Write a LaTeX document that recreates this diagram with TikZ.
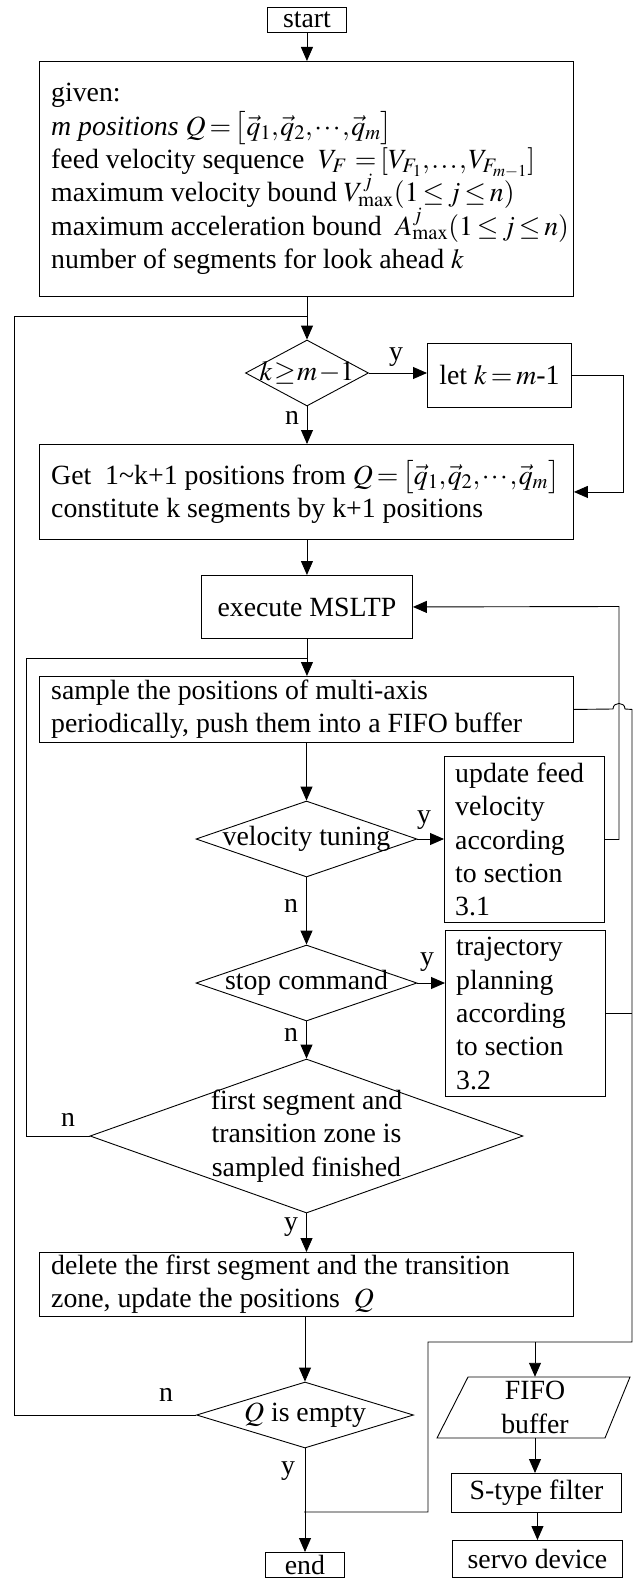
\documentclass[tikz,border=0pt]{standalone}
\usepackage{mathptmx}
\usepackage[no-math]{fontspec}
\setmainfont{Liberation Serif}
\usetikzlibrary{arrows.meta,shapes.geometric}
\lineskiplimit=-50pt\relax
\lineskip=0pt\relax
% tight equation-editor style spacing
\thinmuskip=1mu\relax
\medmuskip=1.5mu\relax
\thickmuskip=2.5mu\relax

\begin{document}
\begin{tikzpicture}[x=1pt,y=-1pt,
  every node/.style={font=\fontsize{27.8}{33.4}\selectfont},
  ln/.style={line width=0.9pt},
  arr/.style={ln,-{Triangle[length=14pt,width=12pt]}},
  box/.style={draw,line width=0.9pt,inner sep=0pt,anchor=north west},
  txt/.style={inner sep=0pt,anchor=west,align=left},
  dia/.style={draw,diamond,line width=0.9pt,inner sep=0pt},
  lbl/.style={inner sep=0pt}
]
\useasboundingbox (0,0) rectangle (635,1578);
\clip (0,0) rectangle (635,1578);

% ---------- main column ----------
\node[box,minimum width=79pt,minimum height=25pt] (start) at (267,7) {start};

\node[box,minimum width=534pt,minimum height=235pt] (given) at (39,61) {};
\node[txt] (givent) at ([xshift=12pt]given.west)
  {given:\\
   \textit{m positions} $Q=\bigl[\vec q_{1},\vec q_{2},\cdots,\vec q_{m}\bigr]$\\
   feed velocity sequence\ \ $V_{F}\;=[V_{F_1},\ldots,V_{F_{m-1}}]$\\
   maximum velocity bound $V^{j}_{\max}(1\le j\le n)$\\
   maximum acceleration bound\ \ $A^{j}_{\max}(1\le j\le n)$\\
   number of segments for look ahead $k$};

\node[dia,minimum width=123pt,minimum height=66pt] (d1) at (307,373) {};
\node[lbl] (d1t) at (307,373) {$k\mskip1mu{\ge}\mskip1mu m\mskip1mu{-}\mskip0mu 1$};

\node[box,minimum width=144pt,minimum height=64pt] (let) at (427,343) {let $k=m$-1};

\node[box,minimum width=534pt,minimum height=95pt] (get) at (39,444) {};
\node[txt] (gett) at ([xshift=12pt]get.west)
  {Get\ \ 1\textasciitilde{}k+1 positions from $Q=\bigl[\vec q_{1},\vec q_{2},\cdots,\vec q_{m}\bigr]$\\
   constitute k segments by k+1 positions};

\node[box,minimum width=211pt,minimum height=63pt] (exe) at (201,575) {execute MSLTP};

\node[box,minimum width=534pt,minimum height=66pt] (sample) at (39,676) {};
\node[txt] (samplet) at ([xshift=12pt]sample.west)
  {sample the positions of multi-axis\\
   periodically, push them into a FIFO buffer};

\node[dia,minimum width=221pt,minimum height=76pt] (vel) at (306.5,839) {};
\node[lbl] (velt) at (306.5,839) {velocity tuning};

\node[box,minimum width=160pt,minimum height=166pt] (upd) at (444,756) {};
\node[txt] (updt) at ([xshift=11pt]upd.west)
  {update feed\\velocity\\according\\to section\\3.1};

\node[dia,minimum width=221pt,minimum height=76pt] (stop) at (306.5,983) {};
\node[lbl] (stopt) at (306.5,983) {stop command};

\node[box,minimum width=160pt,minimum height=166pt] (traj) at (445,930) {};
\node[txt] (trajt) at ([xshift=11pt]traj.west)
  {trajectory\\planning\\according\\to section\\3.2};

\node[dia,minimum width=433pt,minimum height=154pt] (big) at (306.5,1136) {};
\node[lbl,align=center] (bigt) at (306.5,1136)
  {first segment and\\transition zone is\\sampled finished};

\node[box,minimum width=534pt,minimum height=64pt] (del) at (39,1252) {};
\node[txt] (delt) at ([xshift=12pt]del.west)
  {delete the first segment and the transition\\
   zone, update the positions\ \ $Q$};

\node[dia,minimum width=217pt,minimum height=66pt] (qd) at (305,1415) {};
\node[lbl] (qdt) at (305,1415) {$Q$ is empty};

\node[box,minimum width=79pt,minimum height=25pt] (end) at (265,1552) {end};

% ---------- output chain ----------
\node[lbl,minimum width=170pt,minimum height=61pt,align=center] (fifo) at (535,1407.5) {FIFO\\buffer};
\draw[ln] (468,1377) -- (630,1377) -- (605,1438) -- (437,1438) -- cycle;

\node[box,minimum width=170pt,minimum height=39pt] (stype) at (451,1473) {S-type filter};
\node[box,minimum width=170pt,minimum height=37pt] (servo) at (452,1540) {servo device};

% ---------- junction points ----------
\coordinate (o1) at (14,316);
\coordinate (j1) at (307,316);
\coordinate (i1) at (26,658);
\coordinate (j2) at (306.5,658);
\coordinate (fb) at (619,606.5);
\coordinate (fr) at (632,708);
\coordinate (fr2) at (632,1342);
\coordinate (bl) at (428,1342);
\coordinate (j3) at (304,1512);

% ---------- connectors ----------
\draw[arr] (start.south) -- (start.south |- given.north);
\draw[arr] (d1.north |- given.south) -- (d1.north);
\draw[ln] (qd.west) -| (o1) -- (j1);

\draw[arr] (d1.east) -- (d1.east -| let.west);
\node[lbl] (ly1) at (396,357) {y};
\draw[arr] (let.east) -- ++(52,0) |- (get.east);
\draw[arr] (d1.south) -- (d1.south |- get.north);
\node[lbl] (ln1) at (292,418) {n};

\draw[arr] (exe.north |- get.south) -- (exe.north);
\draw[arr] (exe.south) -- (exe.south |- sample.north);
\draw[ln] (big.west) -| (i1) -- (j2);
\node[lbl] (ln4) at (68,1120) {n};

\draw[ln] (sample.east) -- (613,709) to[out=90,in=90,looseness=1.6] (625,709) -- (fr |- sample.east)
  -- (fr2) -- (bl) |- (j3);
\draw[arr] (fifo.north |- fr2) -- (fifo.north);

\draw[arr] (sample.south -| vel.north) -- (vel.north);
\draw[arr] (vel.east) -- (vel.east -| upd.west);
\node[lbl] (ly2) at (424,820) {y};
\draw[arr] (upd.east) -| (fb) -- (exe.east);

\draw[arr] (vel.south) -- (stop.north);
\node[lbl] (ln2) at (291,906) {n};
\draw[arr] (stop.east) -- (stop.east -| traj.west);
\node[lbl] (ly3) at (427,962) {y};
\draw[ln] (traj.east) -- (traj.east -| fr);

\draw[arr] (stop.south) -- (big.north);
\node[lbl] (ln3) at (291,1035) {n};
\draw[arr] (big.south) -- (big.south |- del.north);
\node[lbl] (ly4) at (291,1227) {y};

\draw[arr] (qd.north |- del.south) -- (qd.north);
\node[lbl] (ln5) at (166,1395) {n};
\draw[arr] (qd.south) -- (qd.south |- end.north);
\node[lbl] (ly5) at (288,1471) {y};

\draw[arr] (fifo.south) -- (fifo.south |- stype.north);
\draw[arr] (stype.south -| servo.north) -- (servo.north);
\end{tikzpicture}
\end{document}
